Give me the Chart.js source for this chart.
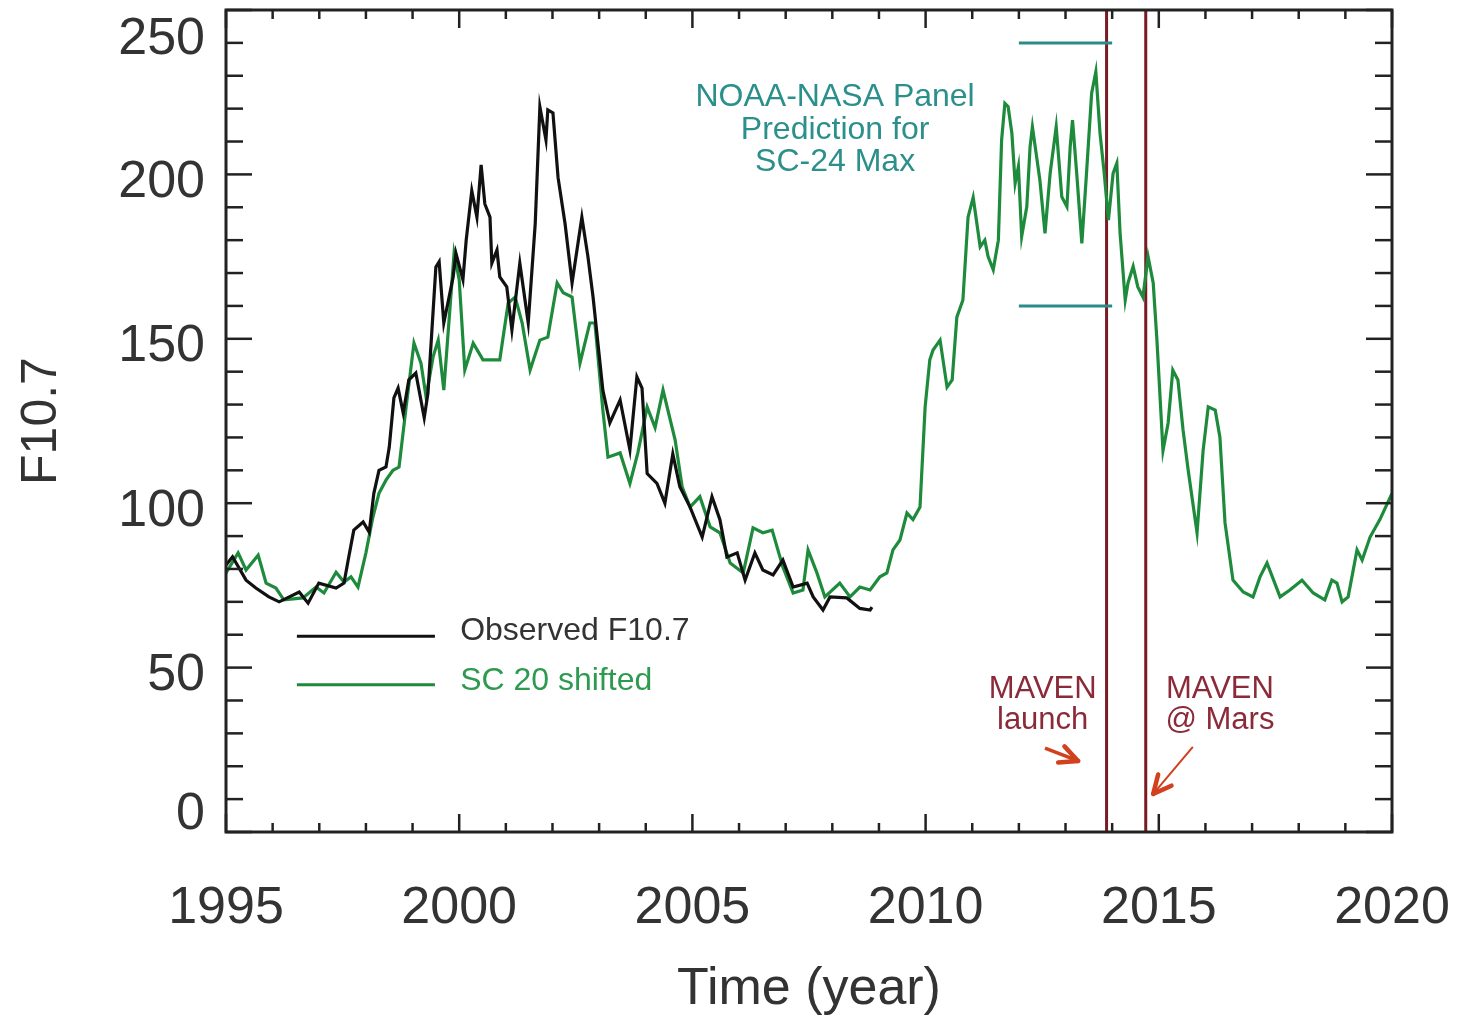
<!DOCTYPE html>
<html>
<head>
<meta charset="utf-8">
<script src="https://cdn.jsdelivr.net/npm/chart.js@4.4.1/dist/chart.umd.min.js"></script>
<style>
  html, body { margin: 0; padding: 0; background: #fff; }
  #wrap { width: 1459px; height: 1019px; }
</style>
</head>
<body>
<div id="wrap"><canvas id="mycanvas" width="1459" height="1019"></canvas></div>
<script>
// observed F10.7 (black)
var obsYears = [1995.00, 1995.14, 1995.43, 1995.64, 1995.92, 1996.14, 1996.57, 1996.76, 1996.99, 1997.36,
  1997.53, 1997.62, 1997.74, 1997.94, 1998.07, 1998.17, 1998.28, 1998.43, 1998.50, 1998.60,
  1998.69, 1998.80, 1998.92, 1999.07, 1999.25, 1999.33, 1999.50, 1999.57, 1999.67, 1999.87,
  1999.93, 2000.08, 2000.15, 2000.27, 2000.38, 2000.47, 2000.55, 2000.66, 2000.70, 2000.81,
  2000.87, 2001.02, 2001.13, 2001.30, 2001.48, 2001.63, 2001.73, 2001.86, 2001.90, 2002.01,
  2002.12, 2002.27, 2002.42, 2002.63, 2002.76, 2002.87, 2003.08, 2003.23, 2003.45, 2003.66,
  2003.81, 2003.92, 2004.03, 2004.24, 2004.41, 2004.58, 2004.73, 2004.95, 2005.21, 2005.42,
  2005.59, 2005.74, 2005.96, 2006.13, 2006.34, 2006.51, 2006.73, 2006.94, 2007.16, 2007.46,
  2007.59, 2007.80, 2007.95, 2008.31, 2008.59, 2008.81, 2008.85];
var obsF107 = [81.2, 83.7, 76.6, 74.2, 71.5, 70.0, 73.0, 69.6, 75.7, 74.2,
  75.7, 82.7, 91.8, 94.3, 91.2, 103, 110, 111, 117, 132,
  135, 127.4, 137.5, 139.6, 126, 133.5, 171.8, 173.4, 154.8, 168.8,
  176, 168, 180, 195, 187, 202.9, 191, 187, 173, 177,
  168.8, 165.8, 152.7, 173, 154.8, 185, 220.5, 210.5, 219.6, 218.7,
  199, 185, 167, 187, 175, 162.7, 134.4, 124.4, 131.4, 116.2,
  138.4, 135, 109, 106, 100, 115, 105, 98.8, 89.7, 102,
  95, 83.6, 84.9, 76.6, 84.9, 79.7, 78.2, 82.7, 74.5, 75.7,
  71.5, 67.5, 71.5, 71.2, 68, 67.5, 68.4];

// solar cycle 20 shifted (green)
var sc20Years = [1995.00, 1995.26, 1995.43, 1995.69, 1995.86, 1996.07, 1996.24, 1996.65, 1996.93, 1997.10,
  1997.36, 1997.53, 1997.68, 1997.83, 1998.00, 1998.15, 1998.28, 1998.43, 1998.58, 1998.71,
  1998.86, 1999.03, 1999.18, 1999.29, 1999.44, 1999.55, 1999.67, 1999.89, 2000.00, 2000.12,
  2000.30, 2000.51, 2000.87, 2001.05, 2001.20, 2001.35, 2001.52, 2001.73, 2001.90, 2002.10,
  2002.23, 2002.42, 2002.59, 2002.80, 2002.91, 2003.08, 2003.19, 2003.45, 2003.66, 2003.83,
  2004.03, 2004.20, 2004.37, 2004.63, 2004.78, 2004.95, 2005.16, 2005.38, 2005.59, 2005.81,
  2006.09, 2006.30, 2006.51, 2006.71, 2006.94, 2007.16, 2007.37, 2007.48, 2007.67, 2007.84,
  2008.16, 2008.38, 2008.59, 2008.81, 2009.02, 2009.17, 2009.30, 2009.45, 2009.60, 2009.73,
  2009.88, 2009.99, 2010.09, 2010.16, 2010.31, 2010.46, 2010.57, 2010.67, 2010.80, 2010.91,
  2011.02, 2011.17, 2011.27, 2011.34, 2011.45, 2011.56, 2011.63, 2011.70, 2011.77, 2011.85,
  2011.92, 2011.99, 2012.06, 2012.17, 2012.24, 2012.29, 2012.37, 2012.45, 2012.56, 2012.67,
  2012.80, 2012.92, 2013.03, 2013.10, 2013.15, 2013.24, 2013.35, 2013.45, 2013.56, 2013.65,
  2013.74, 2013.83, 2013.92, 2014.02, 2014.10, 2014.17,
  2014.28, 2014.34, 2014.45, 2014.55, 2014.66, 2014.77, 2014.88, 2014.96, 2015.09,
  2015.20, 2015.30, 2015.41, 2015.52, 2015.63, 2015.82, 2015.95, 2016.06, 2016.21, 2016.31,
  2016.42, 2016.59, 2016.81, 2017.02, 2017.17, 2017.32, 2017.60, 2017.81, 2018.07, 2018.31,
  2018.56, 2018.71, 2018.82, 2018.93, 2019.06, 2019.25, 2019.36, 2019.53, 2019.74, 2020.00];
var sc20F107 = [78.8, 84.9, 79.7, 84.2, 75.7, 74.2, 70.6, 71.2, 74.5, 72.7,
  79, 76, 77.6, 74.5, 84.9, 95.8, 103, 107, 110, 111,
  129, 148.7, 142.6, 132.3, 144.5, 149.6, 134.4, 176, 168, 140.5,
  148.7, 143.6, 143.6, 160.9, 162.7, 154.8, 140.5, 149.6, 150.5, 167,
  164, 162.7, 142.6, 154.8, 154.8, 128.3, 114, 115.3, 106, 115.3,
  129.3, 123, 134.4, 119.2, 105, 98.8, 102, 92.8, 91, 81.8,
  78.8, 92.5, 91, 91.8, 80.6, 72.7, 73.6, 85.8, 78.8, 71.5,
  75.7, 71.5, 74.5, 73.6, 77.6, 78.8, 85.8, 88.8, 97, 95,
  98.8, 129.3, 143.6, 146.6, 149.6, 135.3, 137.5, 156.6, 161.8, 187,
  193, 178, 180, 175, 171, 180, 210.5, 221.6, 220.6, 212.5,
  197.3, 202.4, 181.1, 190.2, 208.4, 214.5, 206.4, 198.3, 182.1, 200.3,
  214.5, 193.2, 190.2, 208.4, 216.5, 200.3, 179.0, 200.3, 224.7, 231.2,
  212.5, 200.3, 186.1, 200.3, 203.4, 182.1,
  161.8, 167, 172, 165.8, 162.7, 175, 167, 149.6, 116,
  124.4, 140.5, 137.5, 122.3, 110, 91, 116, 129.3, 128.3, 120.1,
  94, 76.6, 73, 71.5, 77.6, 81.8, 71.5, 73.6, 76.6, 72.7,
  70.6, 76.6, 75.7, 70, 71.5, 85.8, 82.7, 89.7, 95, 103];

// NOAA-NASA panel prediction range for SC-24 max
var panelYears = [2012.0, 2014.0];
var panelHigh = [240, 240];
var panelLow = [160, 160];

// MAVEN events
var mavenYears = [2013.88, 2014.72];
var mavenSpan = [0, 250];

var xTicks = [1995, 2000, 2005, 2010, 2015, 2020];
var yTicks = [0, 50, 100, 150, 200, 250];

function pts(xs, ys) {
  var out = [];
  for (var i = 0; i < xs.length; i++) out.push({x: xs[i], y: ys[i]});
  return out;
}

var FONT = '"Liberation Sans", Arial, Helvetica, sans-serif';

var framePlugin = {
  id: 'frame',
  afterDraw: function(chart) {
    var ctx = chart.ctx, a = chart.chartArea;
    var xs = chart.scales.x, ys = chart.scales.y;
    function seg(x1, y1, x2, y2) {
      ctx.beginPath(); ctx.moveTo(x1, y1); ctx.lineTo(x2, y2); ctx.stroke();
    }
    function P(t, v) { return [xs.getPixelForValue(t), ys.getPixelForValue(v)]; }
    function arrow(t1, v1, t2, v2, w) {
      var p = P(t1, v1), q = P(t2, v2);
      var ang = Math.atan2(q[1] - p[1], q[0] - p[0]);
      ctx.lineWidth = w;
      seg(p[0], p[1], q[0], q[1]);
      ctx.lineWidth = 4.5;
      ctx.lineCap = 'round';
      var hl = 20;
      seg(q[0], q[1], q[0] - hl * Math.cos(ang - 0.45), q[1] - hl * Math.sin(ang - 0.45));
      seg(q[0], q[1], q[0] - hl * Math.cos(ang + 0.45), q[1] - hl * Math.sin(ang + 0.45));
      ctx.lineCap = 'butt';
    }
    ctx.save();

    // frame + inward ticks
    ctx.strokeStyle = '#222';
    ctx.lineWidth = 3;
    ctx.strokeRect(a.left, a.top, a.right - a.left, a.bottom - a.top);
    ctx.lineWidth = 2.5;
    for (var v = 0; v <= 250; v += 10) {
      var py = ys.getPixelForValue(v);
      var len = v % 50 === 0 ? 26 : 17;
      seg(a.left, py, a.left + len, py);
      seg(a.right, py, a.right - len, py);
    }
    for (var t = 1995; t <= 2020; t++) {
      var px = xs.getPixelForValue(t);
      var tl = t % 5 === 0 ? 18 : 9;
      seg(px, a.bottom, px, a.bottom - tl);
      seg(px, a.top, px, a.top + tl);
    }

    // y tick labels (kept inside the canvas at the ends)
    ctx.fillStyle = '#333';
    ctx.font = '52px ' + FONT;
    ctx.textAlign = 'right';
    ctx.textBaseline = 'middle';
    yTicks.forEach(function(val) {
      var y = ys.getPixelForValue(val) + 8;
      if (y < 40) y = 40;
      if (y > 815) y = 815;
      ctx.fillText(String(val), a.left - 21, y);
    });

    // legend
    ctx.lineWidth = 3;
    var l1 = P(1996.52, 59.5), l2 = P(1999.48, 59.5);
    ctx.strokeStyle = '#111'; seg(l1[0], l1[1], l2[0], l2[1]);
    var g1 = P(1996.52, 44.8), g2 = P(1999.48, 44.8);
    ctx.strokeStyle = '#1e8b3c'; seg(g1[0], g1[1], g2[0], g2[1]);
    ctx.font = '32px ' + FONT;
    ctx.textAlign = 'left';
    var tp = P(2000.02, 61.1);
    ctx.fillStyle = '#333'; ctx.fillText('Observed F10.7', tp[0], tp[1]);
    tp = P(2000.02, 46.0);
    ctx.fillStyle = '#2e9a50'; ctx.fillText('SC 20 shifted', tp[0], tp[1]);

    // panel annotation
    ctx.textAlign = 'center';
    ctx.fillStyle = '#2b8f8c';
    var nl = ['NOAA-NASA Panel', 'Prediction for', 'SC-24 Max'];
    var nv = [223.5, 213.5, 203.8];
    for (var i = 0; i < nl.length; i++) {
      tp = P(2008.06, nv[i]);
      ctx.fillText(nl[i], tp[0], tp[1]);
    }

    // MAVEN labels
    ctx.fillStyle = '#8b2a38';
    ctx.font = '31px ' + FONT;
    tp = P(2012.51, 43.5); ctx.fillText('MAVEN', tp[0], tp[1]);
    tp = P(2012.51, 33.8); ctx.fillText('launch', tp[0], tp[1]);
    tp = P(2016.31, 43.5); ctx.fillText('MAVEN', tp[0], tp[1]);
    tp = P(2016.31, 33.8); ctx.fillText('@ Mars', tp[0], tp[1]);

    // red arrows
    ctx.strokeStyle = '#d2401e';
    arrow(2012.56, 25.5, 2013.27, 21.6, 3.5);
    arrow(2015.73, 25.9, 2014.88, 11.6, 2);

    ctx.restore();
  }
};

var ctx = document.getElementById('mycanvas').getContext('2d');

var chart = new Chart(ctx, {
  type: 'line',
  data: {
    datasets: [
      { label: 'Observed F10.7', data: pts(obsYears, obsF107), borderColor: '#111', borderWidth: 3.2, pointRadius: 0, tension: 0, fill: false },
      { label: 'SC 20 shifted', data: pts(sc20Years, sc20F107), borderColor: '#1e8b3c', borderWidth: 3.2, pointRadius: 0, tension: 0, fill: false },
      { label: 'Panel high', data: pts(panelYears, panelHigh), borderColor: '#2b8a8a', borderWidth: 3, pointRadius: 0, fill: false },
      { label: 'Panel low', data: pts(panelYears, panelLow), borderColor: '#2b8a8a', borderWidth: 3, pointRadius: 0, fill: false },
      { label: 'MAVEN launch', data: pts([mavenYears[0], mavenYears[0]], mavenSpan), borderColor: '#7a1a24', borderWidth: 3, pointRadius: 0, fill: false },
      { label: 'MAVEN @ Mars', data: pts([mavenYears[1], mavenYears[1]], mavenSpan), borderColor: '#7a1a24', borderWidth: 3, pointRadius: 0, fill: false }
    ]
  },
  options: {
    responsive: false,
    animation: false,
    layout: { padding: { top: 10, right: 67, left: 0, bottom: 0 } },
    plugins: { legend: { display: false }, tooltip: { enabled: false } },
    scales: {
      x: {
        type: 'linear', min: 1995, max: 2020,
        grid: { display: false, drawTicks: false },
        border: { display: false },
        afterBuildTicks: function(s) { s.ticks = xTicks.map(function(v) { return {value: v}; }); },
        ticks: {
          font: { family: FONT, size: 52 }, color: '#333', padding: 45, maxRotation: 0, autoSkip: false,
          callback: function(v) { return String(v); }
        },
        title: { display: true, text: 'Time (year)', color: '#333', font: { family: FONT, size: 52, lineHeight: 1.0 }, padding: { top: 0, bottom: 3 } },
        afterFit: function(s) { s.height = 187; s.paddingLeft = 0; s.paddingRight = 0; }
      },
      y: {
        min: 0, max: 250,
        grid: { display: false, drawTicks: false },
        border: { display: false },
        ticks: { display: false, stepSize: 50 },
        title: { display: true, text: 'F10.7', color: '#333', font: { family: FONT, size: 50 }, padding: { top: 12, bottom: 0 } },
        afterFit: function(s) { s.width = 226; s.paddingTop = 0; s.paddingBottom = 0; }
      }
    }
  },
  plugins: [framePlugin]
});
</script>
</body>
</html>
